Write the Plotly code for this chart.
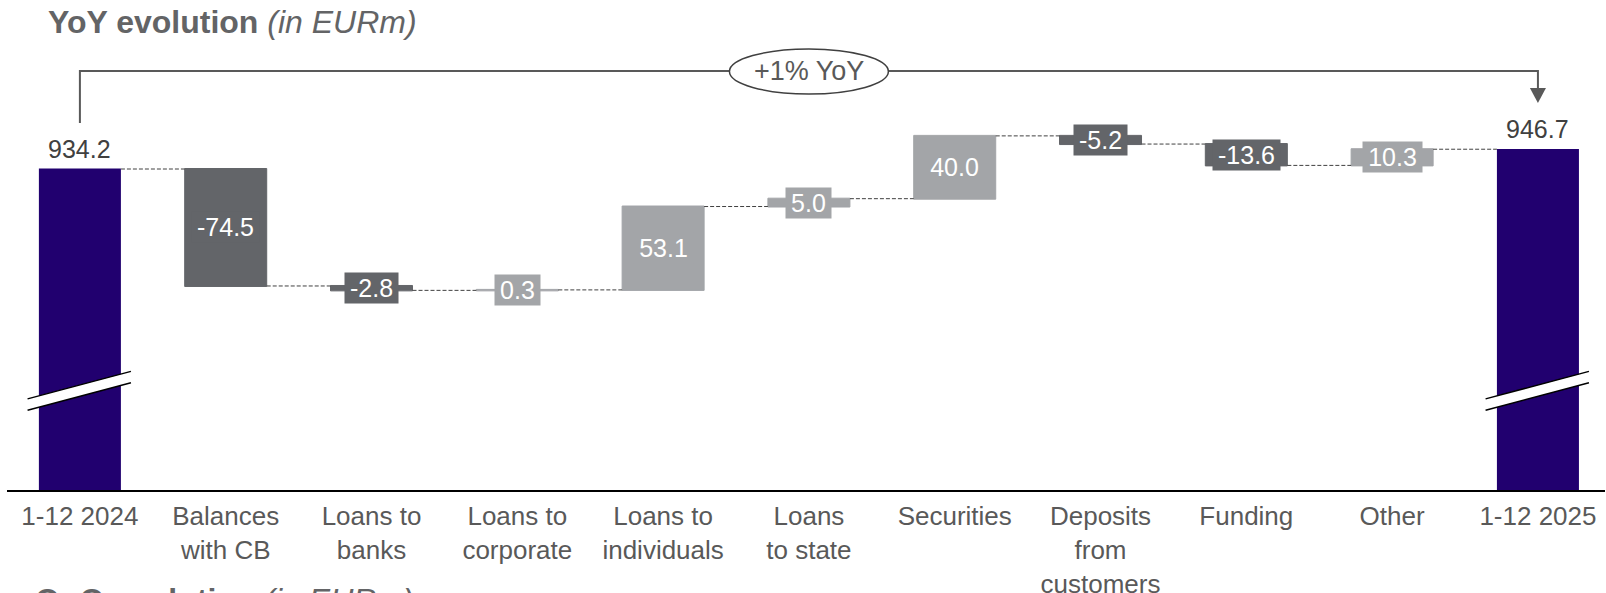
import plotly.graph_objects as go

# ---------------- data ----------------
categories = ["1-12 2024", "Balances<br>with CB", "Loans to<br>banks", "Loans to<br>corporate",
              "Loans to<br>individuals", "Loans<br>to state", "Securities",
              "Deposits<br>from<br>customers", "Funding", "Other", "1-12 2025"]
start_total = 934.2
changes = [-74.5, -2.8, 0.3, 53.1, 5.0, 40.0, -5.2, -13.6, 10.3]
end_total = 946.7
yoy_label = "+1% YoY"
title_main = "YoY evolution"
title_unit = "(in EURm)"
next_title_main = "QoQ evolution"

# ---------------- styling ----------------
FONT = "Liberation Sans, Arial, sans-serif"
C_TOTAL = "#21006F"
C_NEG = "#636569"
C_POS = "#A3A5A8"
C_TEXT = "#595959"
BAR_W = 0.5625
Y_MIN, Y_MAX = 729.75, 1041.85
PLOT_H = 490  # px height of plot area
BREAK_LO, BREAK_HI = 784.2, 801.7  # axis-break centre values (left / right end)
BREAK_GAP = 3.6
LABEL_FS = 25
CHAR_W = {"-": 0.333, ".": 0.278}


def text_px(s, fs):
    return sum(CHAR_W.get(ch, 0.556) for ch in s) * fs


values = [start_total] + changes + [end_total]
measures = ["absolute"] + ["relative"] * len(changes) + ["absolute"]
xs = list(range(len(categories)))

fig = go.Figure()
fig.add_trace(go.Waterfall(
    x=xs, y=values, measure=measures, width=BAR_W,
    textinfo="none", hoverinfo="skip",
    increasing=dict(marker=dict(color=C_POS, line=dict(color=C_POS, width=1))),
    decreasing=dict(marker=dict(color=C_NEG, line=dict(color=C_NEG, width=1))),
    totals=dict(marker=dict(color=C_TOTAL, line=dict(color=C_TOTAL, width=0))),
    connector=dict(mode="between", line=dict(color="#404040", width=1, dash="4px,2px")),
))

annotations = []
# totals labels
for xi, v in [(0, start_total), (len(categories) - 1, end_total)]:
    annotations.append(dict(x=xi, y=v, xref="x", yref="y", text=f"{v:.1f}", showarrow=False,
                            yanchor="bottom", yshift=4,
                            font=dict(family=FONT, size=25, color="#404040")))
# change labels with boxes
level = start_total
for i, c in enumerate(changes, start=1):
    mid = level + c / 2
    level += c
    col = C_POS if c > 0 else C_NEG
    lab = f"{c:.1f}"
    annotations.append(dict(x=i, y=mid, xref="x", yref="y", text=lab, showarrow=False,
                            bgcolor=col, borderpad=1, yanchor="middle",
                            width=round(text_px(lab, LABEL_FS) + 8), align="center",
                            font=dict(family=FONT, size=LABEL_FS, color="white")))


def py(px):
    return 1 - px / PLOT_H


# titles
annotations.append(dict(x=0.0245, y=1, xref="paper", yref="paper", xanchor="left", yanchor="top",
                        yshift=-2, showarrow=False,
                        text=f"<b>{title_main}</b> <i>{title_unit}</i>",
                        font=dict(family=FONT, size=32, color="#636466")))
annotations.append(dict(x=0.0165, y=py(580), xref="paper", yref="paper", xanchor="left", yanchor="top",
                        showarrow=False,
                        text=f"<b>{next_title_main}</b> <i>{title_unit}</i>",
                        font=dict(family=FONT, size=32, color="#636466")))
# yoy label
mid_x = (len(categories) - 1) / 2
annotations.append(dict(x=mid_x, y=py(71.5), xref="x", yref="paper", text=yoy_label, showarrow=False,
                        yanchor="middle", font=dict(family=FONT, size=27, color=C_TEXT)))

shapes = []
last = len(categories) - 1
# bracket
shapes.append(dict(type="path", xref="x", yref="paper",
                   path=f"M 0,{py(123)} L 0,{py(71)} L {last},{py(71)} L {last},{py(89)}",
                   line=dict(color=C_TEXT, width=2)))
shapes.append(dict(type="path", xref="x", yref="paper",
                   path=f"M {last-0.055},{py(88)} L {last+0.055},{py(88)} L {last},{py(103)} Z",
                   fillcolor=C_TEXT, line=dict(color=C_TEXT, width=0)))
shapes.append(dict(type="circle", xref="x", yref="paper",
                   x0=mid_x - 0.545, x1=mid_x + 0.545, y0=py(94), y1=py(49),
                   fillcolor="white", line=dict(color="#404040", width=1.5)))
# axis breaks
for xi in [0, last]:
    xa, xb = xi - 0.359, xi + 0.35
    shapes.append(dict(type="path", xref="x", yref="y",
                       path=(f"M {xa},{BREAK_LO+BREAK_GAP} L {xb},{BREAK_HI+BREAK_GAP} "
                             f"L {xb},{BREAK_HI-BREAK_GAP} L {xa},{BREAK_LO-BREAK_GAP} Z"),
                       fillcolor="white", line=dict(width=0)))
    for s in (BREAK_GAP, -BREAK_GAP):
        shapes.append(dict(type="line", xref="x", yref="y", x0=xa, x1=xb,
                           y0=BREAK_LO + s, y1=BREAK_HI + s, line=dict(color="black", width=1.5)))

fig.update_layout(
    width=1606, height=593,
    margin=dict(l=7, r=1, t=0, b=103, autoexpand=False),
    paper_bgcolor="white", plot_bgcolor="white",
    showlegend=False,
    font=dict(family=FONT, color=C_TEXT),
    xaxis=dict(range=[-0.5, 10.46], tickmode="array", tickvals=xs, ticktext=categories,
               showline=True, linecolor="black", linewidth=2, showgrid=False, zeroline=False,
               ticks="", ticklabelstandoff=2, automargin=False,
               tickfont=dict(family=FONT, size=26, color=C_TEXT), fixedrange=True),
    yaxis=dict(range=[Y_MIN, Y_MAX], visible=False, showgrid=False, zeroline=False,
               fixedrange=True, automargin=False),
    annotations=annotations,
    shapes=shapes,
)

fig.write_html("out.html", config={"displayModeBar": False},
               post_script="document.body.style.margin='0';document.body.style.overflow='hidden';")
